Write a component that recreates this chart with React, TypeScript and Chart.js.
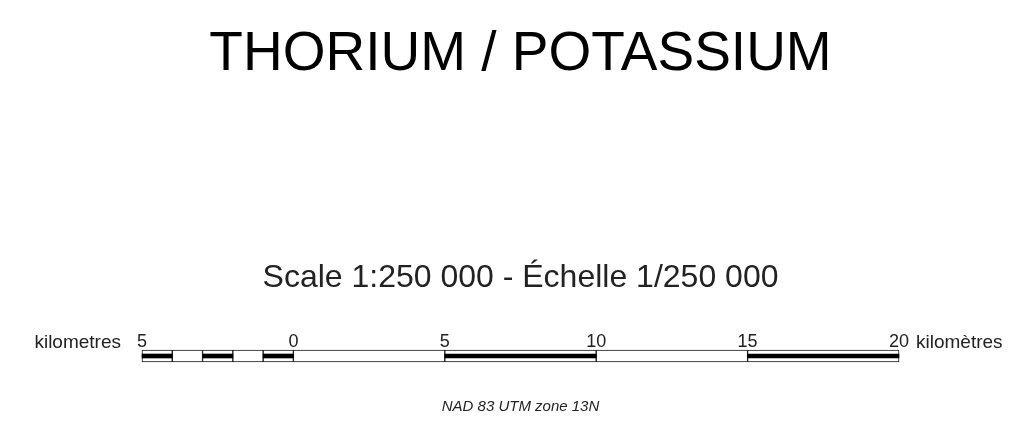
import React, { useEffect, useRef } from "react";
import { Chart, registerables } from "chart.js";

Chart.register(...registerables);

// ---- data ----
const titleText = "THORIUM / POTASSIUM";
const subtitleText = "Scale 1:250 000 - Échelle 1/250 000";
const projectionText = "NAD 83 UTM zone 13N";
const unitLeft = "kilometres";
const unitRight = "kilomètres";

const tickValues = [-5, 0, 5, 10, 15, 20];
const tickLabels = ["5", "0", "5", "10", "15", "20"];

const segmentStart = [-5, -4, -3, -2, -1, 0, 5, 10, 15];
const segmentEnd = [-4, -3, -2, -1, 0, 5, 10, 15, 20];
const segmentFilled = [true, false, true, false, true, false, true, false, true];

const FONT = '"Liberation Sans", Arial, Helvetica, sans-serif';
const TICK_SIZE = 18;

const unitLabelsPlugin = {
  id: "unitLabels",
  afterDraw(chart: any) {
    const xs = chart.scales.x;
    const ctx = chart.ctx;
    const y = xs.bottom - (TICK_SIZE * 1.2) / 2;
    ctx.save();
    ctx.font = `19px ${FONT}`;
    ctx.fillStyle = "#222";
    ctx.textBaseline = "middle";
    ctx.textAlign = "right";
    ctx.fillText(unitLeft, xs.left - 21, y);
    ctx.textAlign = "left";
    ctx.fillText(unitRight, xs.right + 17, y);
    ctx.restore();
  },
};

export default function App() {
  const ref = useRef<HTMLCanvasElement | null>(null);

  useEffect(() => {
    document.body.style.margin = "0";
    if (!ref.current) return;

    const outlineSets = segmentStart.map((s, i) => ({
      label: `segment ${i}`,
      data: [[s, segmentEnd[i]]],
      backgroundColor: "#ffffff",
      borderColor: "#1a1a1a",
      borderWidth: 1,
      borderSkipped: false,
      barThickness: 12,
      grouped: false,
      clip: false,
      order: 2,
    }));
    const bandSets = segmentStart
      .map((s, i) => ({ s, e: segmentEnd[i], f: segmentFilled[i], i }))
      .filter((d) => d.f)
      .map((d) => ({
        label: `band ${d.i}`,
        data: [[d.s, d.e]],
        backgroundColor: "#000000",
        borderWidth: 0,
        barThickness: 4,
        grouped: false,
        clip: false,
        order: 1,
      }));

    const chart = new Chart(ref.current, {
      type: "bar",
      data: {
        labels: ["scale"],
        datasets: [...bandSets, ...outlineSets] as any,
      },
      plugins: [unitLabelsPlugin],
      options: {
        indexAxis: "y",
        animation: false,
        responsive: false,
        layout: { padding: { left: 142, right: 116, top: 0, bottom: 25.5 } },
        scales: {
          x: {
            type: "linear",
            position: "top",
            min: -5,
            max: 20,
            afterBuildTicks: (scale: any) => {
              scale.ticks = tickValues.map((v) => ({ value: v }));
            },
            ticks: {
              autoSkip: false,
              maxRotation: 0,
              padding: 0,
              color: "#222",
              font: { family: FONT, size: TICK_SIZE },
              callback: (_v: any, idx: number) => tickLabels[idx],
            },
            grid: { display: false, drawTicks: false },
            border: { display: false },
          },
          x2: {
            type: "linear",
            position: "bottom",
            min: -5,
            max: 20,
            ticks: { display: false },
            grid: { display: false, drawTicks: false },
            border: { display: false },
            title: {
              display: true,
              text: projectionText,
              color: "#222",
              font: { family: FONT, size: 15, style: "italic" },
              padding: { top: 38.8, bottom: 4 },
            },
          },
          y: { display: false },
        },
        plugins: {
          legend: { display: false },
          tooltip: { enabled: false },
          title: {
            display: true,
            text: titleText,
            color: "#000",
            font: { family: FONT, size: 55, weight: "normal" },
            padding: { top: 21.5, bottom: 0 },
          },
          subtitle: {
            display: true,
            text: subtitleText,
            color: "#222",
            font: { family: FONT, size: 32, weight: "normal" },
            padding: { top: 171.8, bottom: 34.0 },
          },
        },
      } as any,
    });
    return () => chart.destroy();
  }, []);

  return (
    <div style={{ width: 1015, height: 445 }}>
      <canvas ref={ref} width={1015} height={445} style={{ display: "block" }} />
    </div>
  );
}
